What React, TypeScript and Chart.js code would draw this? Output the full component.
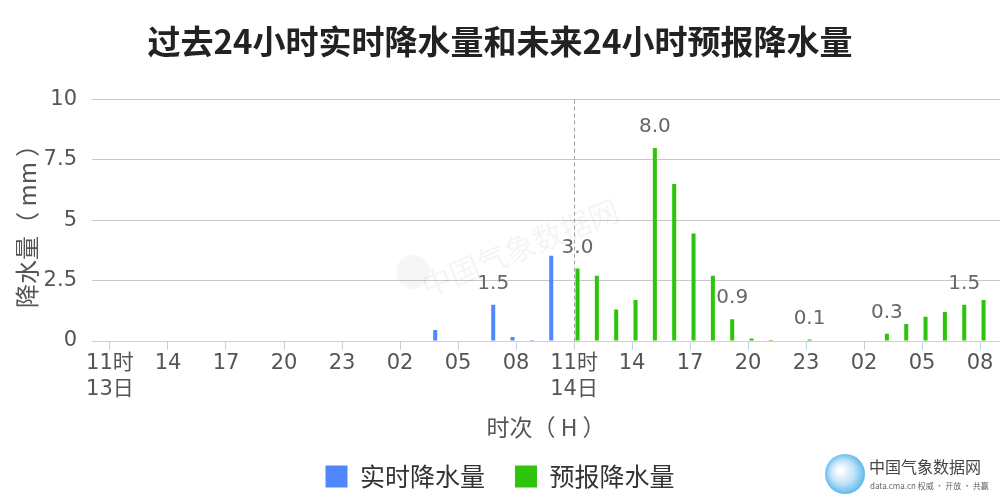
import React, { useEffect, useRef } from 'react';
import { Chart, registerables } from 'chart.js';

Chart.register(...registerables);

// Hourly categories: 13日11时 ... 15日08时 (46 hours)
const hours: string[] = [
  '11', '12', '13', '14', '15', '16', '17', '18', '19', '20', '21', '22', '23',
  '00', '01', '02', '03', '04', '05', '06', '07', '08', '09', '10',
  '11', '12', '13', '14', '15', '16', '17', '18', '19', '20', '21', '22', '23',
  '00', '01', '02', '03', '04', '05', '06', '07', '08',
];

// Past 24 hours observed precipitation (mm), hours 0..23
const actualRain: number[] = [
  0, 0, 0, 0, 0, 0, 0, 0, 0, 0, 0, 0, 0, 0, 0, 0, 0, 0.46, 0, 0, 1.5, 0.17, 0.04, 3.53,
];

// Next 24 hours forecast precipitation (mm), hours 24..45
const forecastRain: number[] = [
  3.0, 2.7, 1.3, 1.7, 8.0, 6.5, 4.45, 2.7, 0.9, 0.1, 0.04, 0, 0.06, 0, 0, 0, 0.3, 0.7, 1.0, 1.2, 1.5, 1.7,
];

// X tick labels, one every 3 hours
const tickLabels: (string | string[])[] = [
  ['11时', '13日'], '14', '17', '20', '23', '02', '05', '08',
  ['11时', '14日'], '14', '17', '20', '23', '02', '05', '08',
];

const yTicks: number[] = [0, 2.5, 5, 7.5, 10];

const BLUE = '#5187fd';
const GREEN = '#2ec40b';
const CJK = "'Noto Sans CJK SC', sans-serif";
const TICKFONT = "'DejaVu Sans', 'Noto Sans CJK SC', sans-serif";

const labelStep = 4;
const nowIndex = actualRain.length; // boundary between observed and forecast

export default function App() {
  const ref = useRef<HTMLCanvasElement | null>(null);

  useEffect(() => {
    if (!ref.current) return;

    const actualData = actualRain.map((v, i) => ({ x: i, y: v }));
    const forecastData = forecastRain.map((v, i) => ({ x: i + actualRain.length, y: v }));

    const decor = {
      id: 'decor',
      beforeDatasetsDraw(chart: any) {
        const { ctx, chartArea, scales } = chart;
        // watermark
        ctx.save();
        ctx.translate(520, 248);
        ctx.rotate((-22 * Math.PI) / 180);
        ctx.fillStyle = 'rgba(0,0,0,0.045)';
        ctx.font = `30px ${CJK}`;
        ctx.textAlign = 'center';
        ctx.textBaseline = 'middle';
        ctx.fillText('中国气象数据网', 0, 0);
        ctx.restore();
        ctx.save();
        ctx.beginPath();
        ctx.arc(413, 272, 17, 0, Math.PI * 2);
        ctx.fillStyle = 'rgba(0,0,0,0.035)';
        ctx.fill();
        ctx.restore();
        // dashed "now" line
        const x = scales.x.getPixelForValue(nowIndex);
        ctx.save();
        ctx.strokeStyle = '#a0a0a0';
        ctx.lineWidth = 1;
        ctx.setLineDash([4, 3]);
        ctx.beginPath();
        ctx.moveTo(Math.round(x) + 0.5, chartArea.top);
        ctx.lineTo(Math.round(x) + 0.5, chartArea.bottom);
        ctx.stroke();
        ctx.restore();
      },
      afterDatasetsDraw(chart: any) {
        const { ctx } = chart;
        ctx.save();
        ctx.fillStyle = '#666';
        ctx.font = `20px ${TICKFONT}`;
        ctx.textAlign = 'center';
        ctx.textBaseline = 'middle';
        chart.data.datasets.forEach((ds: any, di: number) => {
          const meta = chart.getDatasetMeta(di);
          ds.data.forEach((d: any, i: number) => {
            if (d.x % labelStep === 0 && d.y > 0) {
              const el = meta.data[i];
              ctx.fillText(d.y.toFixed(1), el.x, el.y - 21);
            }
          });
        });
        ctx.restore();
      },
      afterDraw(chart: any) {
        const { ctx } = chart;
        ctx.save();
        const g = ctx.createRadialGradient(840, 470, 2, 845, 474, 22);
        g.addColorStop(0, '#ffffff');
        g.addColorStop(0.5, '#bfe3f7');
        g.addColorStop(1, '#4fb0e8');
        ctx.beginPath();
        ctx.arc(845, 474, 20, 0, Math.PI * 2);
        ctx.fillStyle = g;
        ctx.fill();
        ctx.fillStyle = '#444';
        ctx.font = `16px ${CJK}`;
        ctx.textAlign = 'left';
        ctx.textBaseline = 'middle';
        ctx.fillText('中国气象数据网', 869, 467);
        ctx.font = `8px ${CJK}`;
        ctx.fillStyle = '#666';
        ctx.fillText('data.cma.cn 权威 · 开放 · 共赢', 870, 486);
        ctx.restore();
      },
    };

    const chart = new Chart(ref.current, {
      type: 'bar',
      data: {
        labels: hours,
        datasets: [
          {
            label: '实时降水量',
            data: actualData as any,
            backgroundColor: BLUE,
            borderWidth: 0,
            categoryPercentage: 0.72,
            barPercentage: 0.58,
          },
          {
            label: '预报降水量',
            data: forecastData as any,
            backgroundColor: GREEN,
            borderWidth: 0,
            categoryPercentage: 0.72,
            barPercentage: 0.58,
          },
        ],
      },
      options: {
        responsive: false,
        animation: false,
        devicePixelRatio: 1,
        layout: { padding: { left: 0, right: 0, top: 0, bottom: 1 } },
        plugins: {
          tooltip: { enabled: false },
          title: {
            display: true,
            text: '过去24小时实时降水量和未来24小时预报降水量',
            color: '#222',
            font: { size: 33, weight: 'bold', family: CJK, lineHeight: 1.2 },
            padding: { top: 22, bottom: 38 },
          },
          legend: {
            position: 'bottom',
            labels: {
              boxWidth: 22,
              boxHeight: 22,
              color: '#333',
              font: { size: 25, family: CJK },
              padding: 30,
            },
          },
        },
        scales: {
          x: {
            type: 'linear',
            offset: false,
            min: -0.93,
            max: hours.length - 1 + 1.03,
            afterBuildTicks: (s: any) => {
              s.ticks = tickLabels.map((_, k) => ({ value: k * 3 }));
            },
            afterFit: (s: any) => {
              s.height = 93;
            },
            ticks: {
              autoSkip: false,
              maxRotation: 0,
              padding: 0,
              color: '#555',
              font: { size: 21, family: TICKFONT, lineHeight: 1.25 },
              callback: (v: any) => tickLabels[Math.round(Number(v) / 3)] as any,
            },
            grid: {
              offset: false,
              drawOnChartArea: false,
              drawTicks: true,
              tickLength: 9,
              color: '#c4d3e3',
            },
            border: { color: '#c4d3e3', width: 1 },
            title: {
              display: true,
              text: '时次（ H ）',
              color: '#555',
              font: { size: 23, family: CJK },
              padding: { top: 0, bottom: -7 },
            },
          },
          y: {
            min: 0,
            max: 10,
            afterBuildTicks: (s: any) => {
              s.ticks = yTicks.map((v) => ({ value: v }));
            },
            afterFit: (s: any) => {
              s.width = 92;
            },
            ticks: {
              padding: 15,
              color: '#555',
              font: { size: 21, family: TICKFONT },
              callback: (v: any) => String(v),
            },
            grid: { color: '#c8c8c8', drawTicks: false },
            border: { display: false },
            title: {
              display: true,
              text: '降水量（ mm ）',
              color: '#555',
              font: { size: 24, family: CJK },
              padding: { top: 12, bottom: 0 },
            },
          },
        },
      },
      plugins: [decor],
    } as any);

    return () => chart.destroy();
  }, []);

  return (
    <div style={{ position: 'absolute', left: 0, top: 0, width: 1000, height: 500, background: '#fff' }}>
      <canvas ref={ref} width={1000} height={500} />
    </div>
  );
}
